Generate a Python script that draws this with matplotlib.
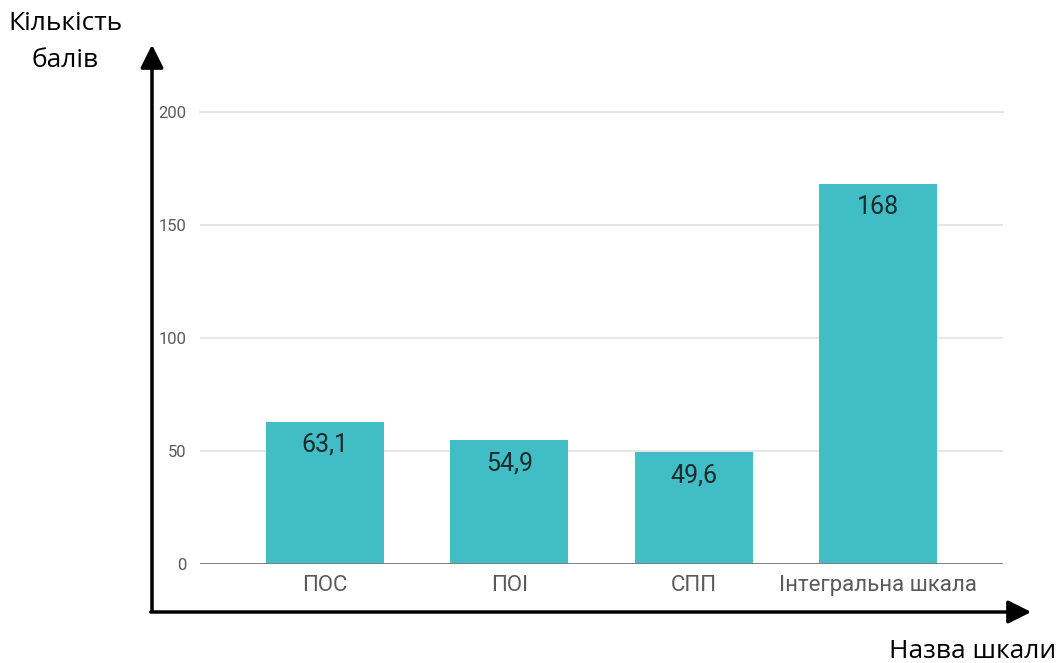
import matplotlib.pyplot as plt
from matplotlib.patches import FancyArrowPatch

categories = ['ПОС', 'ПОІ', 'СПП', 'Інтегральна шкала']
values = [63.1, 54.9, 49.6, 168]
value_labels = ['63,1', '54,9', '49,6', '168']
y_ticks = [0, 50, 100, 150, 200]

BAR_COLOR = '#41bdc5'
GRID_COLOR = '#e2e2e2'
TICK_COLOR = '#5a5a5a'

fig = plt.figure(figsize=(10.6, 6.63), dpi=100)
ax = fig.add_axes([0.1887, 0.149, 0.7573, 0.682])

x = range(len(categories))
ax.bar(x, values, width=0.64, color=BAR_COLOR, zorder=2)
for i, v in enumerate(values):
  ax.annotate(value_labels[i], (i, v), xytext=(0, -23), textcoords='offset pixels',
              ha='center', va='center', fontsize=18, color='#1e2b2c', family='Roboto', zorder=3)

ax.set_xlim(-0.678, 3.678)
ax.set_ylim(0, 200)
ax.set_yticks(y_ticks)
ax.set_yticklabels([str(t) for t in y_ticks])
ax.set_xticks(list(x))
ax.set_xticklabels(categories)
ax.tick_params(axis='y', length=0, pad=10, labelsize=12, labelcolor=TICK_COLOR)
ax.tick_params(axis='x', length=0, pad=8, labelsize=16, labelcolor=TICK_COLOR)
for lab in ax.get_xticklabels() + ax.get_yticklabels():
  lab.set_family('Roboto')

ax.grid(axis='y', color=GRID_COLOR, linewidth=1.2, zorder=0)
for s in ax.spines.values():
  s.set_visible(False)
ax.axhline(0, color='#7a7a7a', linewidth=1.3, zorder=3)
ax.axhline(200, color=GRID_COLOR, linewidth=1.2, zorder=0, clip_on=False)

# black arrows for axes
W, H = 1060, 663
def fx(px): return px / W
def fy(py): return 1 - py / H

fig.add_artist(FancyArrowPatch(
  (fx(152), fy(614)), (fx(152), fy(42)), transform=fig.transFigure,
  arrowstyle='-|>,head_length=7,head_width=3.5', color='black', linewidth=2.5, mutation_scale=2))
fig.add_artist(FancyArrowPatch(
  (fx(148), fy(612)), (fx(1034), fy(612)), transform=fig.transFigure,
  arrowstyle='-|>,head_length=7,head_width=3.5', color='black', linewidth=2.5, mutation_scale=2))

fig.text(fx(65), fy(42), 'Кількість\nбалів', ha='center', va='center', fontsize=19,
         family='Open Sans', linespacing=1.65)
fig.text(fx(1056), fy(652), 'Назва шкали', ha='right', va='center', fontsize=19, family='Open Sans')

fig.savefig('out.png', dpi=100)
